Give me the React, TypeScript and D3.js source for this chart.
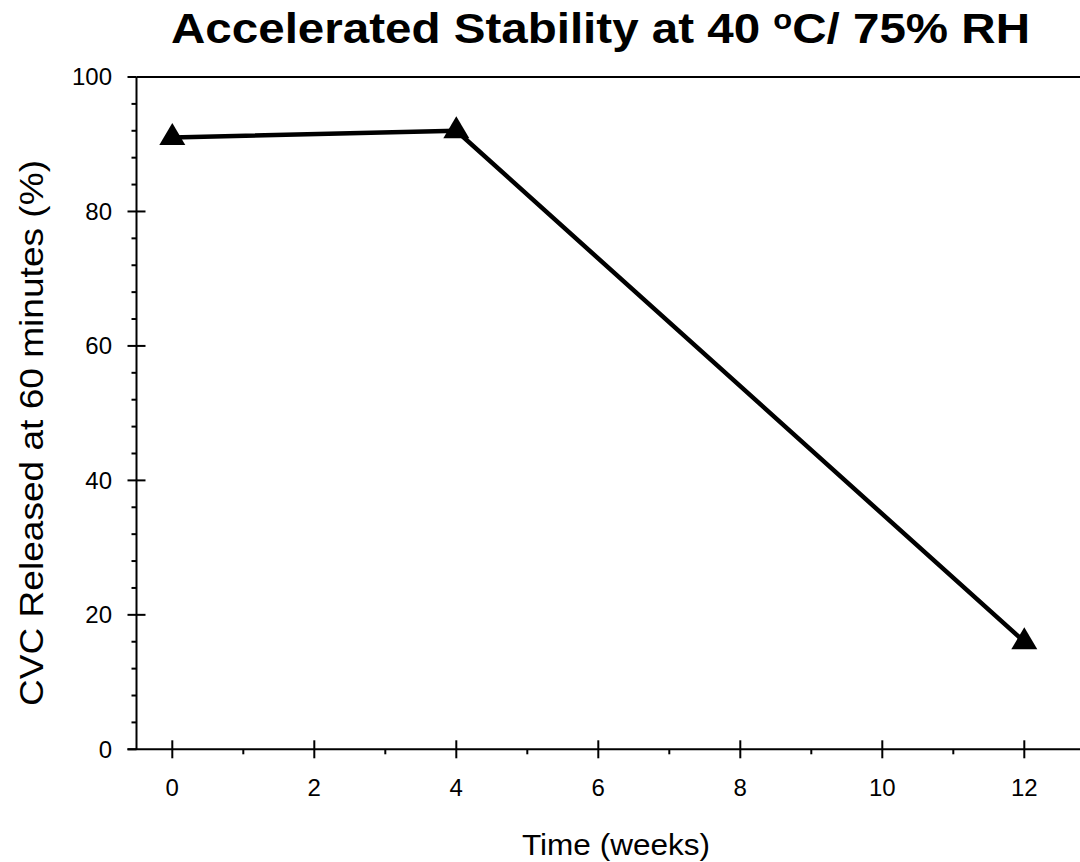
import React from "react";
import * as d3 from "d3";

const weeks = [0, 4, 12];
const released = [91, 92, 16];
const xTicks = [0, 2, 4, 6, 8, 10, 12];
const xMinor = [1, 3, 5, 7, 9, 11];
const yTicks = [0, 20, 40, 60, 80, 100];
const yMinor = d3.range(4, 100, 4).filter((v) => v % 20 !== 0);

const W = 1080;
const H = 862;
const axisX = 136.5;
const font = "'Liberation Sans', Arial, sans-serif";

export default function App() {
  const x = d3.scaleLinear().domain([0, 12]).range([172.3, 1024.3]);
  const y = d3.scaleLinear().domain([0, 100]).range([749.3, 77]);
  const pts = weeks.map((w, i) => [x(w), y(released[i])] as [number, number]);
  const line = d3.line()(pts) || "";
  const tri = (cx: number, cy: number) =>
    `M${cx},${cy - 14.5} L${cx + 13},${cy + 7.5} L${cx - 13},${cy + 7.5} Z`;

  return (
    <svg width={W} height={H} style={{ position: "absolute", left: 0, top: 0, background: "#fff" }}>
      <rect width={W} height={H} fill="#fff" />
      <text
        x={171}
        y={43}
        fontFamily={font}
        fontWeight="bold"
        fontSize={43}
        textLength={859}
        lengthAdjust="spacingAndGlyphs"
      >
        Accelerated Stability at 40 <tspan fontSize={28} dy={-14}>o</tspan>
        <tspan dy={14}>C/ 75% RH</tspan>
      </text>
      {/* frame */}
      <line x1={axisX} x2={W} y1={y(100)} y2={y(100)} stroke="#000" strokeWidth={2} />
      <line x1={axisX - 9} x2={W} y1={y(0)} y2={y(0)} stroke="#000" strokeWidth={2} />
      <line x1={axisX} x2={axisX} y1={y(100)} y2={y(0)} stroke="#000" strokeWidth={2} />
      {/* y ticks */}
      {yTicks.map((t) => (
        <g key={"y" + t}>
          <line x1={axisX - 9} x2={axisX + (t === 0 || t === 100 ? 0 : 9)} y1={y(t)} y2={y(t)} stroke="#000" strokeWidth={2} />
          <text x={112} y={y(t)} dy="0.35em" textAnchor="end" fontFamily={font} fontSize={24}>
            {t}
          </text>
        </g>
      ))}
      {yMinor.map((t) => (
        <line key={"ym" + t} x1={axisX - 5} x2={axisX} y1={y(t)} y2={y(t)} stroke="#000" strokeWidth={2} />
      ))}
      {/* x ticks */}
      {xTicks.map((t) => (
        <g key={"x" + t}>
          <line x1={x(t)} x2={x(t)} y1={y(0) - 9} y2={y(0) + 9} stroke="#000" strokeWidth={2} />
          <text x={x(t)} y={796} textAnchor="middle" fontFamily={font} fontSize={24}>
            {t}
          </text>
        </g>
      ))}
      {xMinor.map((t) => (
        <line key={"xm" + t} x1={x(t)} x2={x(t)} y1={y(0)} y2={y(0) + 5} stroke="#000" strokeWidth={2} />
      ))}
      <text
        x={522}
        y={855}
        fontFamily={font}
        fontSize={30}
        textLength={188}
        lengthAdjust="spacingAndGlyphs"
      >
        Time (weeks)
      </text>
      <text
        transform={`translate(43,706) rotate(-90)`}
        fontFamily={font}
        fontSize={34}
        textLength={546}
        lengthAdjust="spacingAndGlyphs"
      >
        CVC Released at 60 minutes (%)
      </text>
      <path d={line} fill="none" stroke="#000" strokeWidth={4.5} strokeLinejoin="round" />
      {pts.map(([cx, cy], i) => (
        <path key={i} d={tri(cx, cy)} fill="#000" />
      ))}
    </svg>
  );
}
